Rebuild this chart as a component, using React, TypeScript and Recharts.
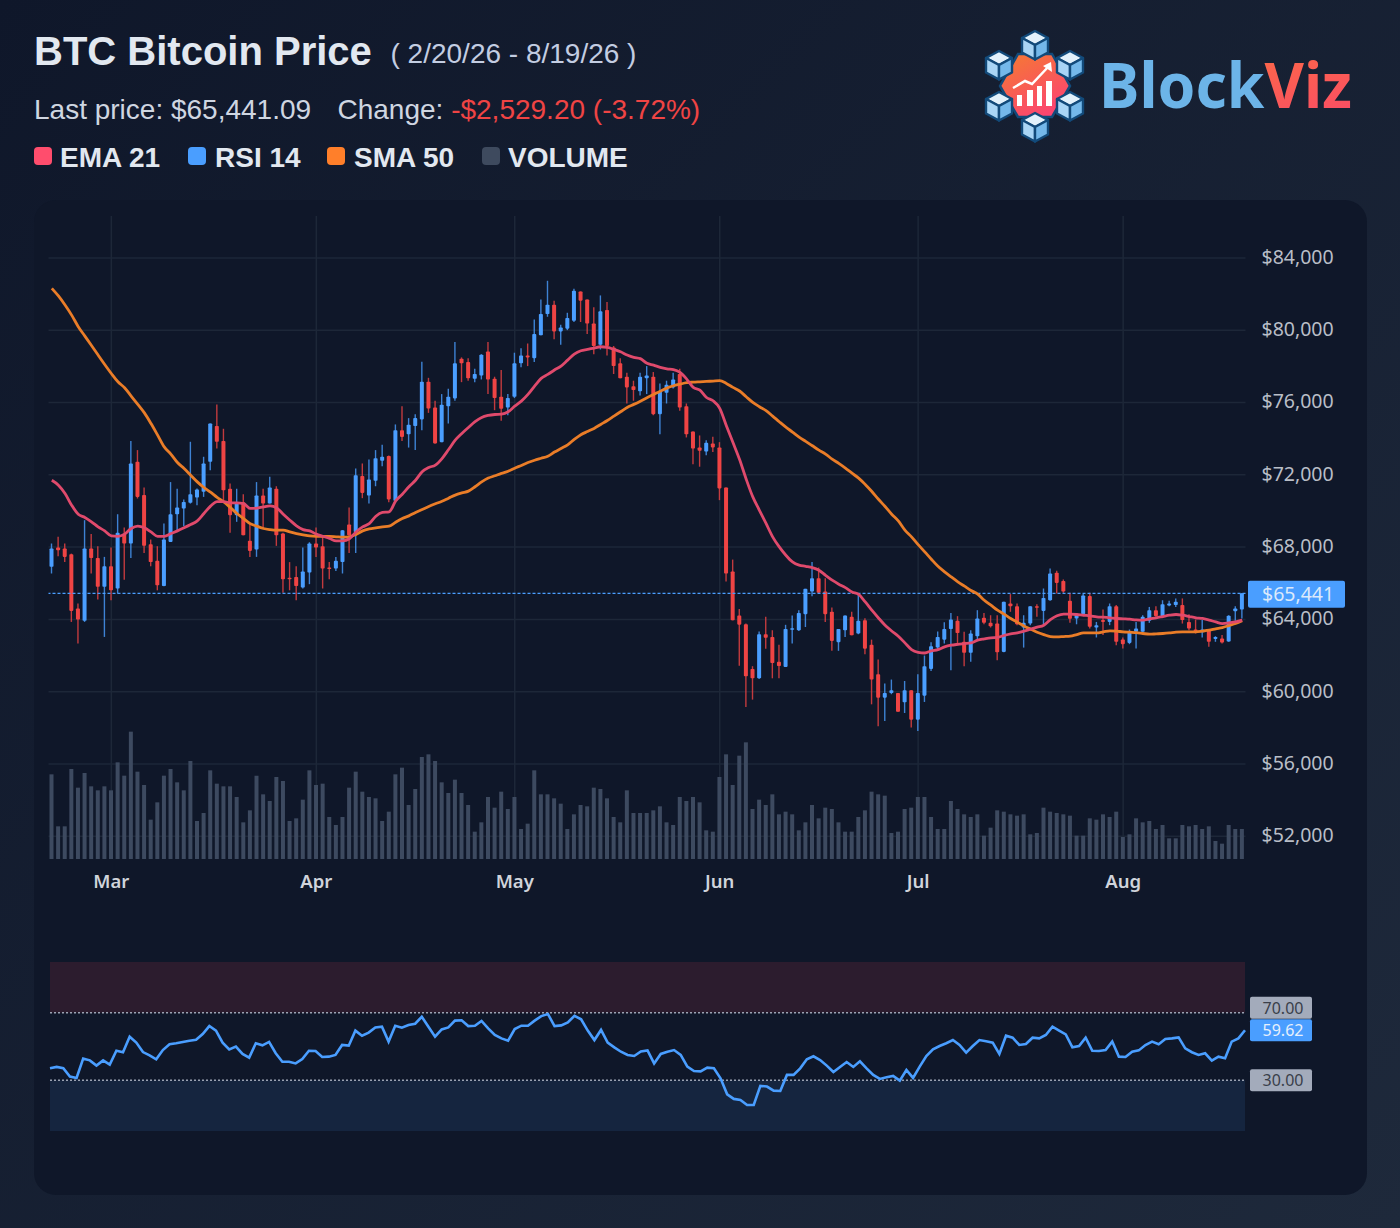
import React from 'react';
import {
  ComposedChart,
  Bar,
  Line,
  XAxis,
  YAxis,
  CartesianGrid,
  ReferenceLine,
  ReferenceArea,
} from 'recharts';

const opens = [
  66910, 67980, 67920, 67610, 64600, 63920, 67920, 67400, 65800, 66940,
  65710, 68720, 68200, 72720, 70880, 68160, 67240, 65850, 68290, 69820,
  70140, 70450, 70750, 71060, 72720, 74700, 73880, 71230, 69770, 70490,
  68350, 67870, 70860, 70410, 71230, 68750, 66300, 66350, 65760, 66590,
  68200, 68050, 66870, 66810, 67180, 69250, 68840, 71930, 70860, 71670,
  72780, 73040, 70560, 74470, 74250, 74700, 75070, 77150, 75730, 73810,
  75800, 76230, 78430, 78240, 77320, 77500, 78830, 77320, 76320, 75730,
  76320, 78170, 78610, 78460, 79720, 80900, 81420, 79940, 80090, 80530,
  82150, 81710, 80380, 79200, 81120, 79050, 78170, 77430, 76910, 76620,
  77350, 77430, 75360, 76540, 76840, 77580, 75800, 74400, 73520, 73290,
  73740, 73520, 71300, 66650, 64210, 63730, 61260, 60740, 63180, 63030,
  61650, 61370, 63440, 63400, 64290, 65540, 66280, 65540, 64430, 62740,
  63400, 64140, 63220, 63950, 62590, 60960, 59670, 59930, 59930, 59410,
  60080, 58450, 59780, 61260, 62440, 62880, 63470, 63920, 62760, 62150,
  63070, 64090, 63810, 63770, 62200, 64880, 64730, 63550, 63770, 64730,
  64470, 65060, 66580, 66130, 65030, 64050, 64290, 65290, 63550, 63960,
  63860, 64730, 62890, 62700, 63310, 63310, 63920, 64510, 64180, 64770,
  64790, 64790, 63860, 63440, 63290, 63400, 62920, 62940, 62770, 64450, 64550,
];

const closes = [
  67920, 67830, 67460, 64470, 63990, 67920, 67400, 65800, 66940, 65610,
  68790, 68200, 72630, 70780, 68070, 67180, 65890, 68420, 69820, 70190,
  70500, 70930, 71190, 72630, 74840, 73830, 71150, 69770, 70490, 68660,
  67790, 70860, 70410, 71300, 68660, 66220, 66220, 65850, 66650, 68200,
  67980, 66810, 66800, 67240, 68940, 68660, 71980, 71000, 71740, 72920,
  73000, 70640, 74470, 74100, 74770, 75140, 77150, 75670, 73740, 75880,
  76320, 78170, 78170, 77350, 77580, 78650, 77280, 76250, 75660, 76250,
  78170, 78610, 78500, 79790, 80900, 81420, 79940, 80160, 80680, 82190,
  81640, 80380, 79130, 81050, 79130, 78020, 77350, 76840, 76690, 77430,
  77500, 75360, 76620, 76980, 77280, 75730, 74250, 73460, 73330, 73770,
  73520, 71250, 66540, 63950, 63710, 60850, 60740, 63180, 62980, 61590,
  61420, 63470, 63510, 64360, 65690, 66280, 65470, 64290, 62810, 63470,
  64210, 63120, 63920, 62380, 60670, 59670, 59930, 60080, 58890, 60080,
  58450, 59930, 61410, 62510, 63030, 63470, 63990, 63250, 62150, 63220,
  64050, 63810, 63620, 62180, 64970, 64730, 63730, 63810, 64730, 64660,
  65190, 66540, 66020, 65540, 64030, 64290, 65320, 63590, 63680, 63860,
  64730, 62760, 62630, 63310, 63490, 64140, 64510, 64180, 64840, 64880,
  64970, 63960, 63490, 63350, 63440, 62760, 63030, 62720, 64200, 64600, 65441,
];

const highs = [
  68200, 68570, 68200, 67640, 64880, 69490, 68720, 68050, 67460, 67980,
  69820, 69080, 73880, 73370, 71300, 68420, 68050, 69310, 71600, 71230,
  70640, 73830, 71240, 73000, 74840, 75900, 74550, 71520, 71230, 70930,
  69310, 71600, 71230, 71890, 71370, 68790, 67170, 66940, 67980, 68270,
  69080, 68570, 67170, 67460, 68940, 70190, 72350, 72630, 72850, 73370,
  73660, 73070, 74790, 75800, 75140, 75360, 78260, 77370, 76100, 76470,
  76760, 79350, 78500, 78460, 77870, 78680, 79350, 77430, 77800, 76470,
  78760, 79000, 79270, 80600, 81710, 82740, 81640, 80310, 80970, 82300,
  82150, 81710, 81270, 81930, 81560, 79130, 78460, 77650, 77210, 77650,
  78020, 77690, 77060, 77210, 77650, 77870, 75950, 74400, 74180, 73920,
  74110, 73810, 71300, 67310, 64580, 63770, 61410, 63330, 64140, 63400,
  62590, 63700, 64210, 64510, 65690, 67170, 66870, 66280, 64660, 63470,
  64210, 64430, 65390, 64060, 62880, 61780, 60450, 60670, 59930, 60590,
  60080, 60960, 62000, 62740, 63330, 63840, 64360, 64180, 63310, 63400,
  64510, 64360, 64230, 64230, 64970, 65400, 64880, 64230, 64730, 64840,
  65710, 66820, 66690, 66210, 65470, 64330, 65400, 65470, 63860, 64550,
  64880, 64790, 63000, 63440, 63860, 64230, 64690, 64730, 65060, 65030,
  65160, 65160, 64290, 63990, 63960, 63440, 63070, 63130, 64230, 64730, 65441,
];

const lows = [
  66540, 67500, 67180, 63860, 62660, 63860, 66540, 65100, 63030, 65060,
  65430, 66200, 67400, 70690, 67680, 66940, 65610, 65840, 68290, 68940,
  69160, 70410, 70320, 70780, 72260, 73460, 70600, 68790, 69400, 68660,
  67460, 67460, 69030, 70410, 68070, 65470, 65610, 65060, 65710, 65950,
  67460, 65710, 66220, 66680, 66540, 67680, 67680, 70710, 70410, 71370,
  72480, 70490, 70500, 73880, 73510, 73370, 74470, 75430, 73740, 73810,
  74840, 76100, 77130, 77210, 77130, 77280, 76470, 75580, 74990, 75300,
  76250, 77950, 78020, 78240, 79720, 80750, 79500, 79200, 80010, 80460,
  80460, 79790, 78680, 78940, 78610, 77580, 77350, 75950, 76100, 76390,
  76470, 75300, 74250, 75950, 76780, 75550, 74070, 72590, 72450, 73090,
  73260, 70600, 66100, 63950, 61440, 59150, 59560, 60700, 62380, 60740,
  60740, 61370, 62660, 63360, 63580, 65280, 65430, 63860, 62260, 62260,
  63030, 63120, 63180, 62070, 59300, 58080, 58380, 59860, 58890, 58820,
  58010, 57820, 59430, 61150, 62290, 62660, 61180, 62570, 61410, 61650,
  62850, 63730, 63550, 61740, 62180, 64420, 63680, 62440, 63680, 64140,
  63730, 65030, 65430, 65470, 63810, 63730, 64230, 63490, 63000, 63130,
  63680, 62570, 62390, 62630, 62390, 63310, 63810, 64140, 64100, 64730,
  64690, 63770, 63400, 63220, 63000, 62480, 62760, 62660, 62760, 63920, 64050,
];

const ema21 = [
  71700, 71430, 70970, 70320, 69820, 69640, 69400, 69120, 68900, 68620,
  68600, 68720, 69030, 69160, 69070, 68840, 68600, 68600, 68750, 68900,
  69070, 69250, 69450, 69860, 70270, 70520, 70520, 70450, 70450, 70410,
  70140, 70160, 70230, 70280, 70170, 69820, 69490, 69180, 68970, 68900,
  68720, 68600, 68480, 68350, 68350, 68460, 68840, 69120, 69300, 69710,
  69920, 69950, 70560, 70930, 71340, 71700, 72170, 72410, 72540, 72900,
  73400, 73920, 74290, 74620, 74940, 75180, 75290, 75340, 75360, 75490,
  75800, 76080, 76450, 76910, 77340, 77560, 77800, 78020, 78350, 78680,
  78870, 78940, 79020, 79090, 79050, 78940, 78810, 78630, 78500, 78430,
  78170, 78070, 77950, 77870, 77830, 77670, 77300, 76840, 76690, 76280,
  76100, 75680, 74720, 73790, 72850, 71760, 70780, 70040, 69310, 68570,
  68010, 67550, 67180, 67000, 66940, 66870, 66720, 66440, 66170, 65950,
  65760, 65520, 65380, 64970, 64510, 64080, 63680, 63360, 63070, 62700,
  62330, 62180, 62140, 62260, 62330, 62480, 62570, 62620, 62660, 62700,
  62850, 62920, 62980, 63000, 63110, 63200, 63250, 63350, 63460, 63570,
  63680, 63990, 64200, 64290, 64290, 64270, 64230, 64200, 64140, 64120,
  64090, 64050, 64030, 64010, 63970, 63960, 64030, 64090, 64160, 64230,
  64270, 64230, 64160, 64090, 64050, 63960, 63860, 63770, 63810, 63860, 63960,
];

const sma50 = [
  82320, 81900, 81400, 80840, 80200, 79680, 79160, 78630, 78110, 77610,
  77150, 76820, 76360, 75900, 75430, 74840, 74200, 73550, 73150, 72680,
  72350, 71980, 71610, 71300, 71040, 70750, 70500, 70190, 69860, 69580,
  69300, 69160, 69030, 68970, 68940, 68940, 68840, 68750, 68680, 68620,
  68600, 68600, 68590, 68570, 68550, 68570, 68700, 68900, 69010, 69070,
  69120, 69160, 69380, 69580, 69730, 69920, 70080, 70250, 70400, 70540,
  70710, 70880, 71000, 71100, 71340, 71610, 71820, 71950, 72080, 72200,
  72370, 72520, 72680, 72810, 72920, 73030, 73260, 73460, 73660, 73960,
  74220, 74400, 74570, 74790, 75010, 75250, 75490, 75730, 75900, 76080,
  76270, 76450, 76630, 76800, 76930, 77020, 77100, 77130, 77150, 77170,
  77190, 77210, 77060, 76840, 76640, 76320, 76010, 75770, 75550, 75250,
  74940, 74640, 74370, 74090, 73850, 73610, 73370, 73150, 72870, 72630,
  72370, 72090, 71820, 71470, 71080, 70650, 70250, 69820, 69450, 68940,
  68570, 68140, 67740, 67330, 66940, 66630, 66350, 66080, 65840, 65600,
  65400, 65060, 64790, 64510, 64290, 64050, 63850, 63640, 63460, 63290,
  63160, 63050, 63030, 63050, 63070, 63160, 63250, 63250, 63250, 63310,
  63370, 63350, 63310, 63290, 63270, 63220, 63180, 63200, 63220, 63250,
  63290, 63310, 63310, 63310, 63350, 63400, 63480, 63550, 63660, 63770, 63920,
];

const rsi14 = [
  37.1, 37.9, 37.1, 32.2, 31.4, 42.8, 41.8, 38.7, 41.8, 39.3,
  47.5, 46.6, 55.8, 52.3, 46.7, 44.8, 42.4, 47.9, 51.3, 51.9,
  52.7, 53.4, 54.0, 57.4, 62.1, 59.4, 52.3, 48.3, 49.9, 45.6,
  43.4, 51.9, 50.7, 52.7, 46.0, 41.0, 41.0, 40.0, 42.6, 47.5,
  47.3, 43.8, 44.0, 45.0, 50.9, 50.5, 59.4, 56.4, 58.2, 61.3,
  61.7, 52.9, 62.3, 61.1, 62.7, 63.5, 67.6, 61.7, 55.8, 60.1,
  61.3, 65.3, 65.5, 62.1, 62.3, 65.1, 60.7, 56.8, 54.8, 53.4,
  60.3, 62.3, 62.3, 65.3, 68.0, 69.2, 62.1, 62.5, 64.3, 68.2,
  66.1, 59.4, 53.8, 59.8, 52.3, 49.5, 46.9, 45.0, 44.4, 47.1,
  47.7, 40.0, 45.6, 46.9, 47.9, 45.0, 38.1, 35.5, 35.3, 37.5,
  37.1, 31.2, 21.7, 19.0, 18.4, 15.4, 15.4, 26.7, 26.3, 23.9,
  23.7, 33.2, 33.2, 37.1, 42.4, 44.2, 42.0, 38.7, 34.9, 37.9,
  40.8, 37.9, 41.2, 37.1, 33.2, 30.8, 31.8, 32.6, 29.8, 36.1,
  31.4, 38.1, 44.4, 48.3, 50.3, 51.9, 53.8, 50.9, 46.4, 50.3,
  53.8, 53.1, 52.3, 45.6, 56.4, 55.2, 50.9, 51.5, 55.2, 54.8,
  56.8, 61.7, 59.4, 57.2, 49.5, 50.3, 55.2, 47.5, 47.3, 47.9,
  52.9, 44.0, 43.8, 46.9, 47.7, 50.9, 52.9, 51.3, 54.4, 54.8,
  55.4, 48.9, 46.6, 45.0, 46.0, 41.6, 44.0, 43.0, 52.9, 54.8, 59.62,
];

// billions of dollars
const volumes = [
  25.4, 9.8, 9.8, 27.0, 21.4, 25.8, 21.8, 20.6, 21.8, 20.6,
  29.0, 25.0, 38.2, 26.2, 22.2, 11.8, 17.0, 25.0, 27.0, 23.0,
  20.6, 29.4, 11.4, 13.8, 26.6, 22.6, 21.8, 21.8, 18.6, 11.0,
  14.6, 25.0, 19.4, 17.4, 24.6, 23.4, 11.4, 12.2, 17.8, 26.6,
  22.2, 22.6, 12.6, 10.2, 12.6, 21.4, 26.2, 20.2, 18.6, 18.2,
  11.4, 14.2, 25.4, 27.4, 16.2, 21.0, 30.6, 31.4, 29.4, 23.0,
  19.8, 23.8, 19.8, 16.2, 8.2, 11.0, 18.6, 15.4, 20.2, 15.0,
  18.6, 9.0, 10.6, 26.6, 19.4, 19.4, 18.2, 16.6, 9.0, 13.4,
  16.2, 15.8, 21.4, 21.0, 18.2, 12.6, 11.0, 20.6, 13.8, 13.8,
  13.8, 14.6, 15.8, 11.0, 10.2, 18.6, 17.4, 18.6, 17.0, 8.6,
  8.2, 24.6, 31.4, 22.2, 31.0, 35.0, 15.0, 17.8, 16.2, 19.4,
  13.4, 14.2, 13.4, 8.6, 11.0, 16.2, 12.2, 15.4, 15.0, 11.0,
  8.2, 8.2, 12.6, 14.6, 20.2, 19.4, 19.0, 7.8, 8.2, 15.0,
  15.4, 18.6, 18.6, 12.6, 9.0, 9.0, 17.4, 15.0, 13.4, 12.6,
  13.4, 7.0, 9.4, 14.6, 14.2, 13.4, 13.0, 13.4, 7.4, 7.8,
  15.4, 14.2, 13.8, 13.4, 13.0, 7.0, 7.0, 12.2, 11.8, 13.4,
  12.6, 14.2, 6.6, 7.4, 12.2, 11.0, 11.4, 9.0, 10.2, 6.2,
  6.2, 10.2, 9.8, 10.2, 9.0, 9.8, 5.4, 4.6, 10.2, 9.0, 9.0,
];

const monthDays = [9, 40, 70, 101, 131, 162];
const monthLabels = ['Mar', 'Apr', 'May', 'Jun', 'Jul', 'Aug'];
const priceTicks = [52000, 56000, 60000, 64000, 68000, 72000, 76000, 80000, 84000];

const LAST_PRICE = 65441;
const LAST_RSI = 59.62;

const UP = '#4a9eff';
const DOWN = '#ef4444';
const TICK_FONT = '"Noto Sans", sans-serif';

const chartData = opens.map((open, i) => ({
  day: i,
  open,
  close: closes[i],
  range: [lows[i], highs[i]],
  ema: ema21[i],
  sma: sma50[i],
  rsi: rsi14[i],
  volume: volumes[i],
}));

function Candle(props: any) {
  const { x, y, width, height, payload } = props;
  const h = Math.abs(height);
  const span = payload.range[1] - payload.range[0] || 1;
  const toY = (v: number) => y + ((payload.range[1] - v) / span) * h;
  const top = toY(Math.max(payload.open, payload.close));
  const bottom = toY(Math.min(payload.open, payload.close));
  const color = payload.close >= payload.open ? UP : DOWN;
  const cx = x + width / 2;
  return (
    <g>
      <line x1={cx} x2={cx} y1={y} y2={y + h} stroke={color} strokeWidth={1.4} strokeOpacity={0.8} />
      <rect x={x} y={top} width={width} height={Math.max(bottom - top, 1.5)} fill={color} rx={0.8} />
    </g>
  );
}

function PriceTag(props: any) {
  const { viewBox } = props;
  const right = viewBox.x + viewBox.width;
  return (
    <g>
      <rect x={right + 2.5} y={viewBox.y - 12.5} width={97} height={27} rx={2} fill={UP} />
      <text x={right + 16.5} y={viewBox.y + 7.5} fill="#dbe9fb" fontSize={19.5} fontFamily={TICK_FONT}>
        ${LAST_PRICE.toLocaleString('en-US')}
      </text>
    </g>
  );
}

function RsiTag(props: any) {
  const { viewBox, value, fill, color, shift = 0 } = props;
  const right = viewBox.x + viewBox.width;
  return (
    <g>
      <rect x={right + 5} y={viewBox.y - 11 + shift} width={62} height={22} rx={2} fill={fill} />
      <text
        x={right + 38}
        y={viewBox.y + 6 + shift}
        fill={color}
        fontSize={16}
        textAnchor="middle"
        fontFamily={TICK_FONT}
      >
        {value}
      </text>
    </g>
  );
}

function Logo() {
  const cubes = [
    [1035, 45],
    [1070, 65],
    [1070, 106],
    [1035, 127],
    [999, 106],
    [999, 65],
  ];
  return (
    <svg width={1400} height={170} style={{ position: 'absolute', left: 0, top: 0 }}>
      <defs>
        <linearGradient id="hexFill" x1="0" y1="0" x2="0.6" y2="1">
          <stop offset="0%" stopColor="#f57c30" />
          <stop offset="100%" stopColor="#fb4570" />
        </linearGradient>
        <linearGradient id="vizFill" x1="0" y1="0" x2="1" y2="1">
          <stop offset="0%" stopColor="#fb7a34" />
          <stop offset="100%" stopColor="#fb4a68" />
        </linearGradient>
      </defs>
      <polygon
        points="1000,86 1018,54 1052,54 1070,86 1052,117 1018,117"
        fill="url(#hexFill)"
        stroke="#124a7a"
        strokeWidth={2.5}
      />
      {cubes.map(([cx, cy]) => (
        <g key={`${cx}-${cy}`} stroke="#124a7a" strokeWidth={2.4} strokeLinejoin="round">
          <polygon points={`${cx},${cy - 14} ${cx + 13},${cy - 7} ${cx},${cy} ${cx - 13},${cy - 7}`} fill="#e2f1fb" />
          <polygon points={`${cx - 13},${cy - 7} ${cx},${cy} ${cx},${cy + 14.5} ${cx - 13},${cy + 7.5}`} fill="#a9d5f5" />
          <polygon points={`${cx + 13},${cy - 7} ${cx},${cy} ${cx},${cy + 14.5} ${cx + 13},${cy + 7.5}`} fill="#74b8ea" />
        </g>
      ))}
      <g fill="#fff">
        <rect x={1017} y={95} width={5} height={11} />
        <rect x={1027} y={90} width={6} height={16} />
        <rect x={1037} y={86} width={5} height={20} />
        <rect x={1046} y={81} width={6} height={25} />
      </g>
      <polyline points="1013,88 1025,81 1032,84 1049,66" fill="none" stroke="#fff" strokeWidth={2.5} />
      <polygon points="1051,62 1052,72 1043,66" fill="#fff" />
      <text x={1099} y={108} fontSize={62} fontWeight={700} fontFamily={TICK_FONT} textLength={253} lengthAdjust="spacingAndGlyphs">
        <tspan fill="#6cb4e8">Block</tspan>
        <tspan fill="url(#vizFill)">Viz</tspan>
      </text>
    </svg>
  );
}

const legendItems = [
  { label: 'EMA 21', color: '#ff4d6d', swatch: 34, text: 60 },
  { label: 'RSI 14', color: '#4a9eff', swatch: 188, text: 215 },
  { label: 'SMA 50', color: '#ff7f2a', swatch: 327, text: 354 },
  { label: 'VOLUME', color: '#3e4a5e', swatch: 482, text: 508 },
];

function Header() {
  const base: React.CSSProperties = {
    position: 'absolute',
    whiteSpace: 'nowrap',
    fontFamily: '"Liberation Sans", Arial, sans-serif',
  };
  return (
    <>
      <div style={{ ...base, left: 34, top: 29, fontSize: 40, lineHeight: '44px', fontWeight: 700, color: '#e2e8f0' }}>
        BTC Bitcoin Price
      </div>
      <div style={{ ...base, left: 390.5, top: 37, fontSize: 28, lineHeight: '34px', color: '#c3cde2' }}>
        ( 2/20/26 - 8/19/26 )
      </div>
      <div style={{ ...base, left: 34, top: 93, fontSize: 28, lineHeight: '34px', color: '#cfd6e1' }}>
        Last price: $65,441.09
      </div>
      <div style={{ ...base, left: 337.5, top: 93, fontSize: 28, lineHeight: '34px', color: '#cfd6e1' }}>
        Change: <span style={{ color: DOWN }}>-$2,529.20 (-3.72%)</span>
      </div>
      {legendItems.map((item) => (
        <React.Fragment key={item.label}>
          <div
            style={{
              position: 'absolute',
              left: item.swatch,
              top: 147,
              width: 18,
              height: 18,
              borderRadius: 4,
              background: item.color,
            }}
          />
          <div
            style={{ ...base, left: item.text, top: 141, fontSize: 28, lineHeight: '34px', fontWeight: 700, color: '#e2e8f0' }}
          >
            {item.label}
          </div>
        </React.Fragment>
      ))}
    </>
  );
}

function PriceChart() {
  return (
    <div style={{ position: 'absolute', left: 0, top: 0 }}>
      <ComposedChart
        width={1400}
        height={900}
        data={chartData}
        margin={{ top: 216, right: 0, bottom: 0, left: 48.5 }}
      >
        <CartesianGrid stroke="#1d2738" strokeWidth={1.5} syncWithTicks />
        <XAxis
          dataKey="day"
          type="category"
          scale="band"
          ticks={monthDays}
          interval={0}
          height={41}
          axisLine={false}
          tickLine={false}
          tickSize={0}
          tickMargin={16}
          tickFormatter={(d: number) => monthLabels[monthDays.indexOf(d)]}
          tick={{ fill: '#d0d4db', fontSize: 18.5, fontWeight: 600, fontFamily: TICK_FONT }}
        />
        <XAxis xAxisId="vol" dataKey="day" type="category" scale="band" hide />
        <YAxis
          orientation="right"
          width={154.5}
          domain={[50739, 86326]}
          allowDataOverflow
          ticks={priceTicks}
          interval={0}
          axisLine={false}
          tickLine={false}
          tickSize={0}
          tickMargin={16}
          tickFormatter={(v: number) => `$${v.toLocaleString('en-US')}`}
          tick={{ fill: '#b9bec7', fontSize: 19.5, fontFamily: TICK_FONT, dy: -1 }}
        />
        <YAxis yAxisId="vol" xAxisId="vol" domain={[0, 192.9]} hide />
        <Bar
          dataKey="volume"
          xAxisId="vol"
          yAxisId="vol"
          barSize={4}
          fill="#3d4a60"
          isAnimationActive={false}
        />
        <ReferenceLine
          y={LAST_PRICE}
          stroke={UP}
          strokeDasharray="3 2"
          strokeWidth={1.2}
          label={(p: any) => <PriceTag {...p} />}
        />
        <Bar dataKey="range" barSize={4} shape={<Candle />} isAnimationActive={false} />
        <Line type="monotone" dataKey="sma" stroke="#ea7d28" strokeWidth={2.8} dot={false} isAnimationActive={false} />
        <Line type="monotone" dataKey="ema" stroke="#e04a6c" strokeWidth={2.8} dot={false} isAnimationActive={false} />
      </ComposedChart>
    </div>
  );
}

function RsiChart() {
  return (
    <div style={{ position: 'absolute', left: 0, top: 0 }}>
      <ComposedChart
        width={1400}
        height={1160}
        data={chartData}
        margin={{ top: 962, right: 155, bottom: 29, left: 50 }}
      >
        <XAxis dataKey="day" type="category" scale="point" hide />
        <YAxis domain={[0, 100]} hide />
        <ReferenceArea y1={70} y2={100} fill="#2c1c2e" fillOpacity={1} stroke="none" />
        <ReferenceArea y1={0} y2={30} fill="#15253f" fillOpacity={1} stroke="none" />
        <ReferenceLine
          y={70}
          stroke="#9aa2b2"
          strokeWidth={1.4}
          strokeDasharray="2 2"
          label={(p: any) => <RsiTag {...p} value="70.00" fill="#a3abbb" color="#3a3f4a" shift={-5} />}
        />
        <ReferenceLine
          y={30}
          stroke="#9aa2b2"
          strokeWidth={1.4}
          strokeDasharray="2 2"
          label={(p: any) => <RsiTag {...p} value="30.00" fill="#a3abbb" color="#3a3f4a" />}
        />
        <ReferenceLine
          y={LAST_RSI}
          stroke="none"
          label={(p: any) => <RsiTag {...p} value={LAST_RSI.toFixed(2)} fill={UP} color="#e6f0fc" />}
        />
        <Line dataKey="rsi" stroke="#4a9eff" strokeWidth={2.6} dot={false} isAnimationActive={false} />
      </ComposedChart>
    </div>
  );
}

export default function App() {
  return (
    <div
      style={{
        position: 'relative',
        width: 1400,
        height: 1228,
        overflow: 'hidden',
        background: 'linear-gradient(135deg, #0f172a 0%, #1e293b 100%)',
      }}
    >
      <style>{'body{margin:0}'}</style>
      <div
        style={{
          position: 'absolute',
          left: 34,
          top: 200,
          width: 1333,
          height: 995,
          borderRadius: 22,
          background: '#0f1729',
        }}
      />
      <Header />
      <Logo />
      <PriceChart />
      <RsiChart />
    </div>
  );
}
